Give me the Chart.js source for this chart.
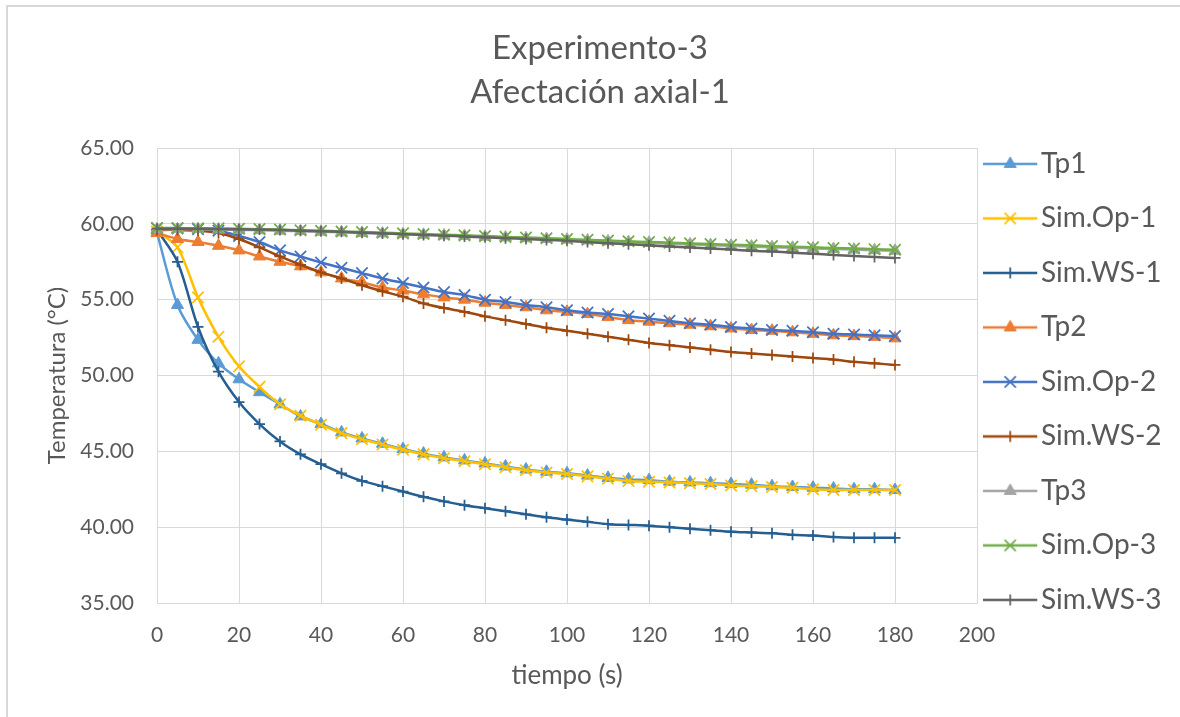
<!DOCTYPE html>
<html lang="es">
<head>
<meta charset="utf-8">
<title>Experimento-3</title>
<script src="https://cdn.jsdelivr.net/npm/chart.js@4.4.1/dist/chart.umd.min.js"></script>
<style>
    html, body { margin: 0; padding: 0; background: #fff; }
    #marco { position: relative; width: 1180px; height: 717px; overflow: hidden; }
    #borde { position: absolute; left: 6px; top: 5px; width: 1300px; height: 800px;
             border-left: 2px solid #d9d9d9; border-top: 2px solid #d9d9d9; }
    #chartExperimento { position: absolute; left: 0; top: 0; }
</style>
</head>
<body>
<div id="marco">
    <div id="borde"></div>
    <canvas id="chartExperimento" width="1180" height="717"></canvas>
</div>
<script>
// tiempo (s)
const tiempo = [0, 5, 10, 15, 20, 25, 30, 35, 40, 45, 50, 55, 60, 65, 70, 75, 80, 85, 90,
    95, 100, 105, 110, 115, 120, 125, 130, 135, 140, 145, 150, 155, 160, 165, 170, 175, 180];

const tp1 = [59.40, 54.65, 52.35, 50.80, 49.75, 48.90, 48.10, 47.30, 46.80, 46.25, 45.85, 45.50,
    45.15, 44.85, 44.60, 44.40, 44.20, 44.00, 43.80, 43.65, 43.55, 43.40, 43.25, 43.15, 43.10,
    43.00, 42.95, 42.90, 42.85, 42.80, 42.70, 42.65, 42.60, 42.55, 42.50, 42.50, 42.45];
const simOp1 = [59.50, 58.45, 55.15, 52.55, 50.60, 49.25, 48.10, 47.35, 46.75, 46.20, 45.80, 45.45,
    45.10, 44.80, 44.55, 44.35, 44.15, 43.95, 43.75, 43.60, 43.50, 43.35, 43.20, 43.05, 43.00,
    42.95, 42.90, 42.85, 42.75, 42.70, 42.65, 42.60, 42.50, 42.45, 42.45, 42.45, 42.45];
const simWS1 = [59.60, 57.50, 53.20, 50.25, 48.25, 46.80, 45.65, 44.80, 44.15, 43.55, 43.05, 42.70,
    42.35, 42.00, 41.70, 41.45, 41.25, 41.05, 40.85, 40.65, 40.50, 40.35, 40.20, 40.15, 40.10,
    40.00, 39.90, 39.80, 39.70, 39.65, 39.60, 39.50, 39.45, 39.35, 39.30, 39.30, 39.30];

const tp2 = [59.40, 59.00, 58.80, 58.55, 58.25, 57.85, 57.50, 57.20, 56.80, 56.40, 56.15, 55.80,
    55.60, 55.35, 55.15, 55.00, 54.80, 54.65, 54.50, 54.30, 54.20, 54.05, 53.85, 53.65, 53.55,
    53.45, 53.35, 53.25, 53.10, 53.00, 52.95, 52.85, 52.75, 52.65, 52.60, 52.55, 52.45];
const simOp2 = [59.70, 59.70, 59.65, 59.55, 59.20, 58.80, 58.25, 57.85, 57.45, 57.10, 56.75, 56.40,
    56.10, 55.80, 55.50, 55.30, 55.00, 54.85, 54.65, 54.50, 54.30, 54.15, 54.05, 53.90, 53.75,
    53.60, 53.45, 53.35, 53.20, 53.10, 53.00, 52.95, 52.85, 52.75, 52.70, 52.65, 52.60];
const simWS2 = [59.60, 59.60, 59.55, 59.40, 59.00, 58.45, 57.85, 57.30, 56.80, 56.40, 55.95, 55.55,
    55.20, 54.75, 54.45, 54.20, 53.90, 53.65, 53.40, 53.15, 52.95, 52.75, 52.55, 52.35, 52.15,
    52.00, 51.85, 51.70, 51.55, 51.45, 51.35, 51.25, 51.15, 51.05, 50.90, 50.80, 50.70];

const tp3 = [59.65, 59.65, 59.65, 59.62, 59.60, 59.58, 59.55, 59.52, 59.48, 59.44, 59.40, 59.36,
    59.32, 59.28, 59.24, 59.20, 59.15, 59.10, 59.05, 59.00, 58.95, 58.90, 58.85, 58.80, 58.75,
    58.70, 58.65, 58.60, 58.55, 58.50, 58.46, 58.42, 58.38, 58.34, 58.30, 58.26, 58.22];
const simOp3 = [59.72, 59.72, 59.71, 59.70, 59.68, 59.65, 59.62, 59.58, 59.54, 59.50, 59.46, 59.42,
    59.37, 59.33, 59.28, 59.24, 59.19, 59.14, 59.10, 59.05, 59.00, 58.95, 58.90, 58.85, 58.80,
    58.76, 58.71, 58.67, 58.62, 58.58, 58.53, 58.49, 58.45, 58.41, 58.37, 58.33, 58.29];
const simWS3 = [59.68, 59.68, 59.67, 59.66, 59.64, 59.62, 59.59, 59.55, 59.51, 59.47, 59.42, 59.37,
    59.32, 59.27, 59.22, 59.16, 59.11, 59.05, 59.00, 58.94, 58.88, 58.80, 58.72, 58.65, 58.58,
    58.51, 58.44, 58.37, 58.30, 58.23, 58.17, 58.10, 58.03, 57.95, 57.88, 57.81, 57.75];

const textoGris = "#595959";
const lineaGrid = "#d9d9d9";

const series = [
    { label: "Tp1", valores: tp1, color: "#5B9BD5", marca: "triangle" },
    { label: "Sim.Op-1", valores: simOp1, color: "#FFC000", marca: "crossRot" },
    { label: "Sim.WS-1", valores: simWS1, color: "#255E91", marca: "cross" },
    { label: "Tp2", valores: tp2, color: "#ED7D31", marca: "triangle" },
    { label: "Sim.Op-2", valores: simOp2, color: "#4472C4", marca: "crossRot" },
    { label: "Sim.WS-2", valores: simWS2, color: "#9E480E", marca: "cross" },
    { label: "Tp3", valores: tp3, color: "#A5A5A5", marca: "triangle" },
    { label: "Sim.Op-3", valores: simOp3, color: "#70AD47", marca: "crossRot" },
    { label: "Sim.WS-3", valores: simWS3, color: "#636363", marca: "cross" }
];

function estiloMarca(tipo) {
    if (tipo === "triangle") return { pointStyle: "triangle", pointRadius: 7, pointBorderWidth: 1 };
    if (tipo === "crossRot") return { pointStyle: "crossRot", pointRadius: 8, pointBorderWidth: 1.75 };
    return { pointStyle: "cross", pointRadius: 5.5, pointBorderWidth: 1.75 };
}

// icono de leyenda: trazo + marcador (la parte derecha queda transparente)
function iconoLeyenda(color, tipo) {
    const c = document.createElement("canvas");
    c.width = 64;
    c.height = 22;
    const ctx = c.getContext("2d");
    ctx.strokeStyle = color;
    ctx.lineWidth = 2.5;
    ctx.beginPath();
    ctx.moveTo(0, 11);
    ctx.lineTo(54, 11);
    ctx.stroke();
    const m = estiloMarca(tipo);
    ctx.fillStyle = color;
    ctx.lineWidth = m.pointBorderWidth;
    Chart.helpers.drawPoint(ctx, {
        pointStyle: m.pointStyle, radius: m.pointRadius, rotation: 0, borderWidth: m.pointBorderWidth
    }, 27, 11);
    return c;
}

Chart.defaults.font.family = "Lato, 'Open Sans', sans-serif";
Chart.defaults.color = textoGris;

const datasets = series.map((s, i) => ({
    label: s.label,
    data: tiempo.map((t, j) => ({ x: t, y: s.valores[j] })),
    borderColor: s.color,
    backgroundColor: s.color,
    pointBackgroundColor: s.color,
    pointBorderColor: s.color,
    borderWidth: 2.5,
    tension: 0.3,
    clip: false,
    order: series.length - i,
    ...estiloMarca(s.marca)
}));

const iconos = series.map(s => iconoLeyenda(s.color, s.marca));

const grafico = new Chart(document.getElementById("chartExperimento"), {
    type: "line",
    data: { datasets },
    options: {
        responsive: false,
        animation: false,
        events: [],
        layout: { padding: { left: 20, right: 0, top: 0, bottom: 0 } },
        plugins: {
            title: {
                display: true,
                text: ["Experimento-3", "Afectación axial-1"],
                color: textoGris,
                font: { size: 33, weight: "normal", lineHeight: 1.35 },
                padding: { top: 26, bottom: 32.9 }
            },
            legend: {
                position: "right",
                align: "start",
                maxWidth: 203,
                title: {
                    display: true,
                    text: " ",
                    font: { size: 12, lineHeight: 1.2 },
                    padding: { top: 0, bottom: 109 }
                },
                labels: {
                    usePointStyle: true,
                    pointStyleWidth: 23.5,
                    padding: 26.5,
                    color: textoGris,
                    font: { size: 28 },
                    generateLabels: chart => chart.data.datasets.map((ds, i) => ({
                        text: ds.label,
                        fontColor: textoGris,
                        pointStyle: iconos[i],
                        datasetIndex: i,
                        hidden: false,
                        lineWidth: 0,
                        strokeStyle: "rgba(0,0,0,0)",
                        fillStyle: "rgba(0,0,0,0)"
                    }))
                }
            },
            tooltip: { enabled: false }
        },
        scales: {
            x: {
                type: "linear",
                min: 0,
                max: 200,
                ticks: { stepSize: 20, color: textoGris, font: { size: 21 }, padding: 20 },
                grid: { color: lineaGrid, drawTicks: false },
                border: { color: lineaGrid },
                title: {
                    display: true,
                    text: "tiempo (s)",
                    color: textoGris,
                    font: { size: 26 },
                    padding: { top: 0, bottom: 25.4 }
                },
                afterFit: s => { s.height = 114; }
            },
            y: {
                min: 35,
                max: 65,
                ticks: {
                    stepSize: 5,
                    color: textoGris,
                    font: { size: 21 },
                    padding: 23,
                    callback: v => Number(v).toFixed(2)
                },
                grid: { color: lineaGrid, drawTicks: false },
                border: { color: lineaGrid },
                title: {
                    display: true,
                    text: "Temperatura (°C)",
                    color: textoGris,
                    font: { size: 24 },
                    padding: { top: 22, bottom: 0 }
                },
                afterFit: s => { s.width = 157 - s.chart.options.layout.padding.left; }
            }
        }
    }
});

// el area de trazado termina en x=977: el resto lo ocupa la leyenda
function ajustarMargenes(chart) {
    const derecha = Math.max(0, 203 - chart.legend.width);
    const izquierda = Math.min(40, 20 + derecha);
    chart.options.layout.padding.right = derecha;
    chart.options.layout.padding.left = izquierda;
    chart.options.scales.y.title.padding.top = 57 - izquierda - 14.4;
    chart.update();
}

ajustarMargenes(grafico);
</script>
</body>
</html>
